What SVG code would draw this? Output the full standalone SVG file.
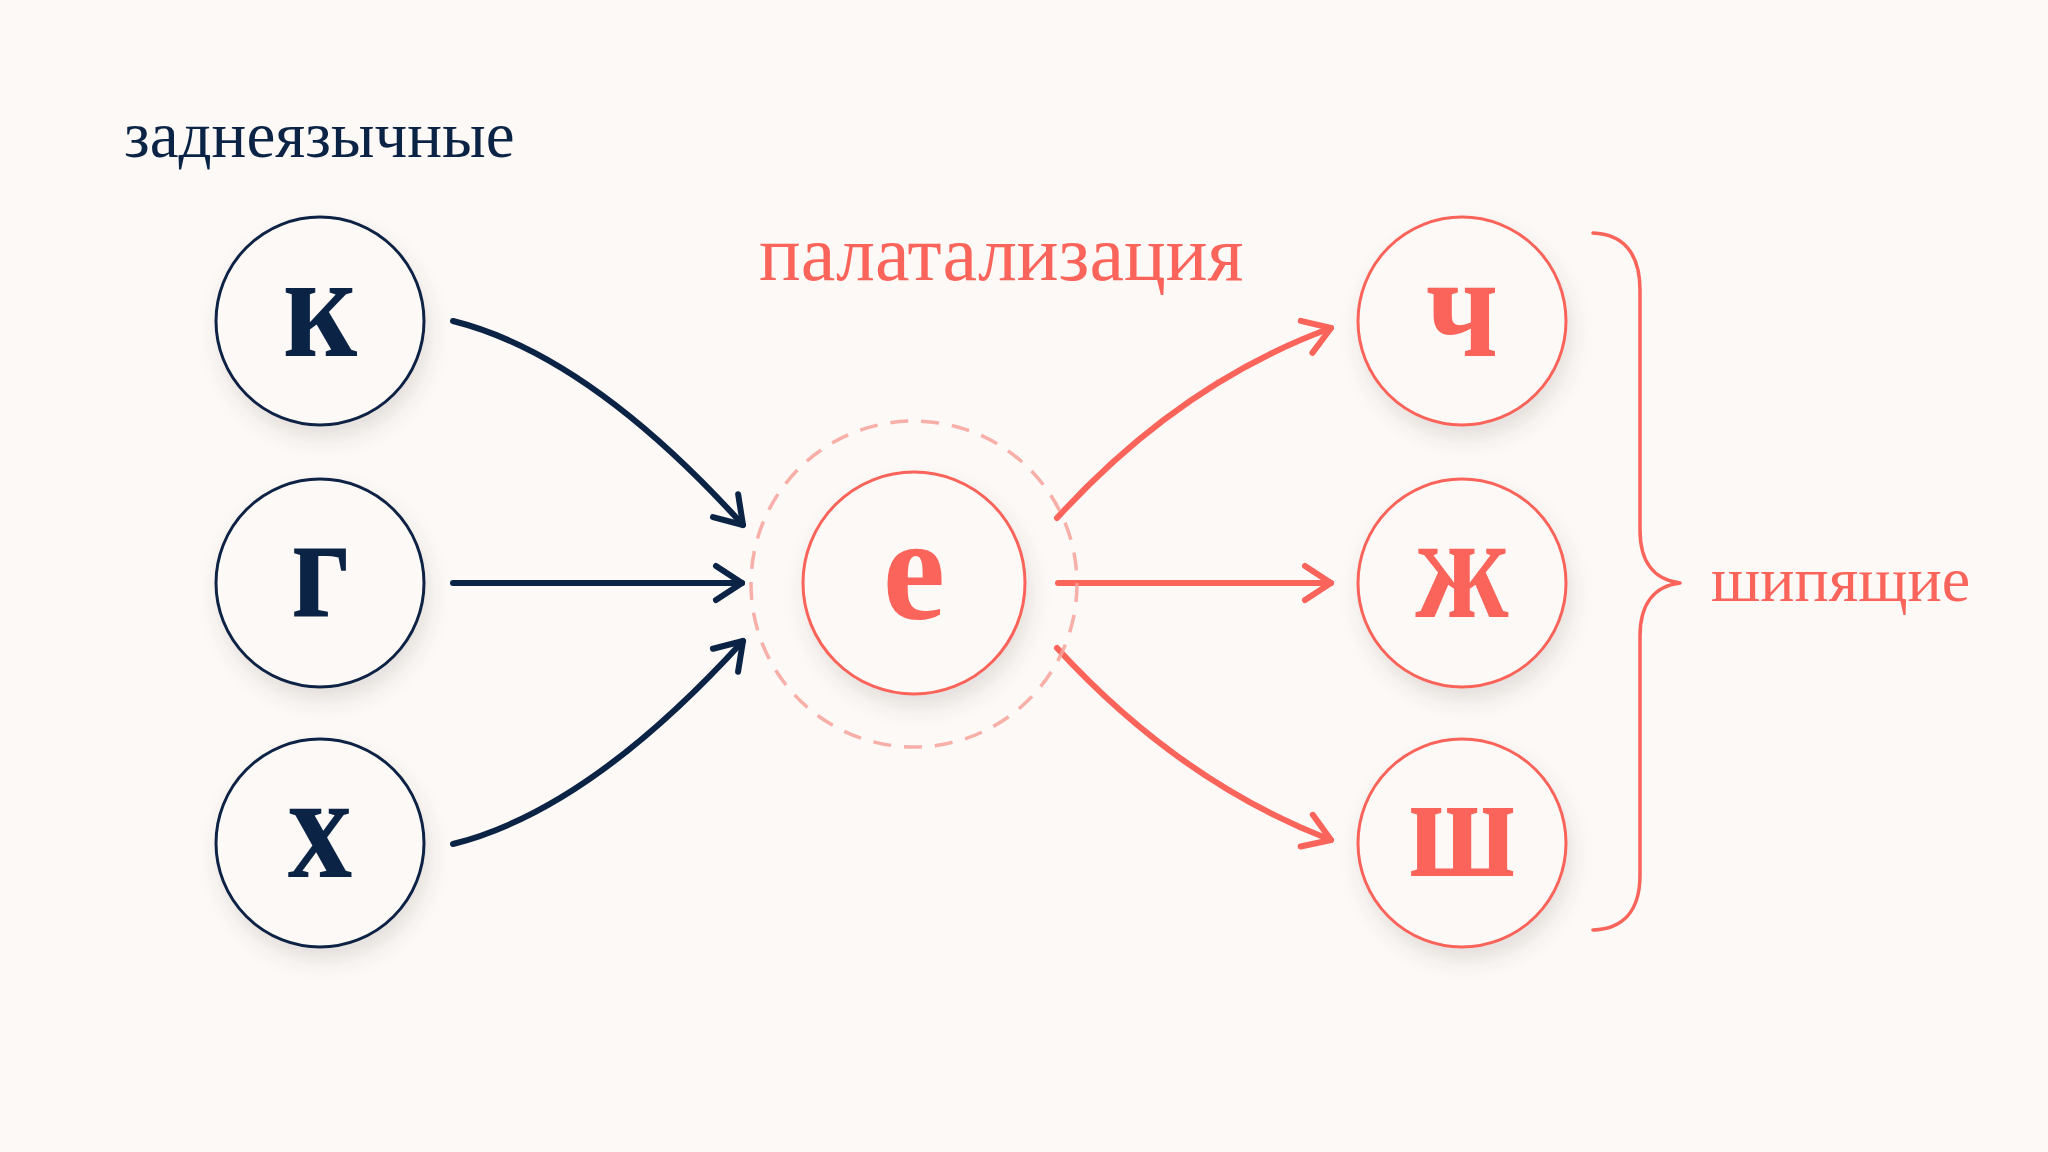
<svg xmlns="http://www.w3.org/2000/svg" width="2048" height="1152" viewBox="0 0 2048 1152">
  <style>
    .bg { fill: #FCF9F7; }
    .node-n { fill: #FCF9F7; stroke: #0B2345; stroke-width: 3; filter: url(#shadow); }
    .node-r { fill: #FCF9F7; stroke: #FA645A; stroke-width: 3; filter: url(#shadow); }
    .glyph { font-family: "Liberation Serif", "Times New Roman", serif; font-weight: bold; font-size: 148px; text-anchor: middle; }
    .lbl { font-family: "Liberation Serif", "Times New Roman", serif; }
    .navy { fill: #0B2345; }
    .red { fill: #FA645A; }
    .conn-n { fill: none; stroke: #0B2345; stroke-width: 6; stroke-linecap: round; }
    .conn-r { fill: none; stroke: #FA645A; stroke-width: 6; stroke-linecap: round; }
  </style>
  <defs>
    <filter id="shadow" x="-30%" y="-30%" width="160%" height="170%">
      <feDropShadow dx="4" dy="12" stdDeviation="10" flood-color="#5a4a45" flood-opacity="0.15"/>
    </filter>
    <marker id="ahN" markerUnits="userSpaceOnUse" viewBox="-32 -22 38 44" refX="0" refY="0" markerWidth="38" markerHeight="44" orient="auto">
      <path d="M-26,-17 L0,0 L-26,17" fill="none" stroke="#0B2345" stroke-width="6" stroke-linecap="round" stroke-linejoin="round"/>
    </marker>
    <marker id="ahR" markerUnits="userSpaceOnUse" viewBox="-32 -22 38 44" refX="0" refY="0" markerWidth="38" markerHeight="44" orient="auto">
      <path d="M-26,-17 L0,0 L-26,17" fill="none" stroke="#FA645A" stroke-width="6" stroke-linecap="round" stroke-linejoin="round"/>
    </marker>
  </defs>

  <rect class="bg" x="0" y="0" width="2048" height="1152"/>

  <text id="label-back" class="lbl navy" x="124" y="157" font-size="65">заднеязычные</text>
  <text id="label-palatal" class="lbl red" x="759" y="280" font-size="78">палатализация</text>
  <text id="label-sibilant" class="lbl red" x="1711" y="601" font-size="64">шипящие</text>

  <g id="connectors">
    <path class="conn-n" d="M453,321 Q589,355 743,525" marker-end="url(#ahN)"/>
    <path class="conn-n" d="M453,583 L742,583" marker-end="url(#ahN)"/>
    <path class="conn-n" d="M453,844 Q589,810 743,641" marker-end="url(#ahN)"/>
    <path class="conn-r" d="M1057,518 Q1180,383 1331,328" marker-end="url(#ahR)"/>
    <path class="conn-r" d="M1058,583 L1331,583" marker-end="url(#ahR)"/>
    <path class="conn-r" d="M1057,648 Q1180,782 1331,840" marker-end="url(#ahR)"/>
  </g>

  <g id="node-k">
    <circle class="node-n" cx="320" cy="321" r="104"/>
    <text class="glyph navy" transform="translate(320,356) scale(0.87,1)">к</text>
  </g>
  <g id="node-g">
    <circle class="node-n" cx="320" cy="583" r="104"/>
    <text class="glyph navy" transform="translate(320,617) scale(0.87,1)">г</text>
  </g>
  <g id="node-h">
    <circle class="node-n" cx="320" cy="843" r="104"/>
    <text class="glyph navy" transform="translate(320,877) scale(0.87,1)">х</text>
  </g>

  <g id="node-e">
    <circle cx="914" cy="584" r="163" fill="none" stroke="#F6A29A" stroke-width="3.5" stroke-dasharray="18 13" opacity="0.85"/>
    <circle class="node-r" cx="914" cy="583" r="111"/>
    <text class="glyph red" transform="translate(914,619) scale(0.95,1)" font-size="162">е</text>
  </g>

  <g id="node-ch">
    <circle class="node-r" cx="1462" cy="321" r="104"/>
    <text class="glyph red" transform="translate(1462,356) scale(0.87,1)">ч</text>
  </g>
  <g id="node-zh">
    <circle class="node-r" cx="1462" cy="583" r="104"/>
    <text class="glyph red" transform="translate(1462,617) scale(0.87,1)">ж</text>
  </g>
  <g id="node-sh">
    <circle class="node-r" cx="1462" cy="843" r="104"/>
    <text class="glyph red" transform="translate(1462,876) scale(0.87,1)">ш</text>
  </g>

  <g id="brace">
    <path d="M1593,233 C1622,234 1640,252 1640,290 L1640,530 C1640,563 1655,580 1680,583 C1655,586 1640,603 1640,636 L1640,875 C1640,912 1622,929 1593,930" fill="none" stroke="#FA645A" stroke-width="3.5" stroke-linecap="round" stroke-linejoin="round"/>
  </g>
</svg>
